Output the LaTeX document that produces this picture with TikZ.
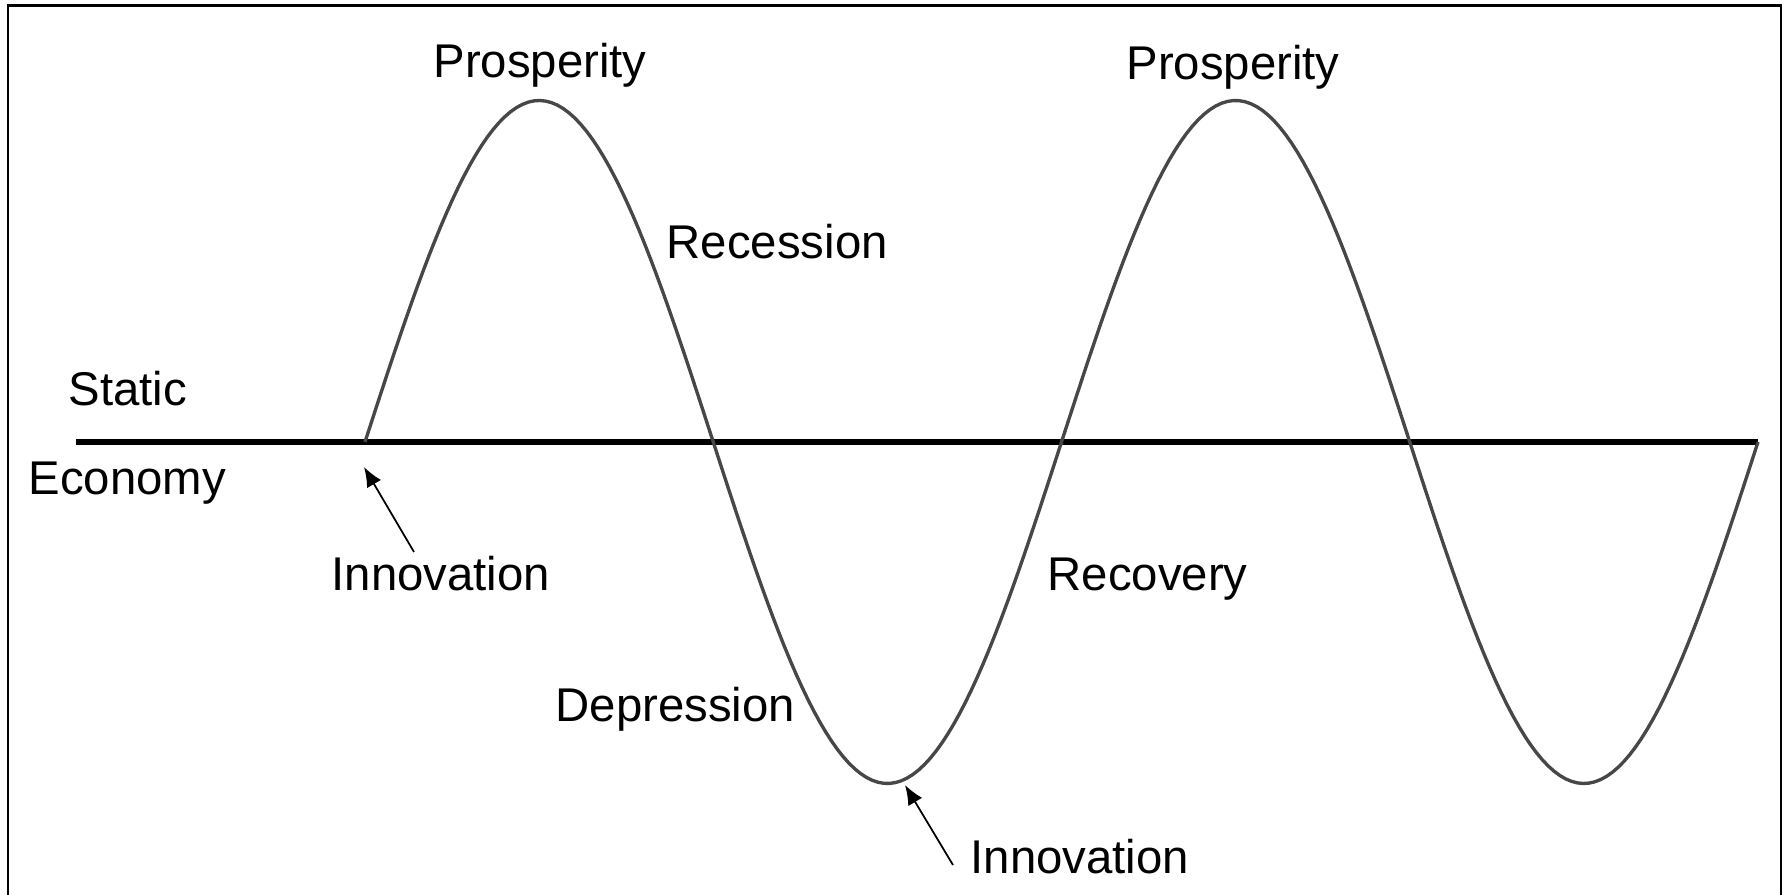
\documentclass[tikz,border=0pt]{standalone}
\usepackage{fontspec}
\setmainfont{Liberation Sans}
\usepackage{tikz}
\usetikzlibrary{arrows.meta, positioning, calc}

\tikzset{
  lbl/.style={font=\fontsize{13.46}{16}\selectfont, inner sep=0pt},
  wave/.style={draw=black!72, line width=0.95pt},
  pointer/.style={-{Latex[length=5.6pt, width=4.6pt]}, line width=0.5pt}
}

\begin{document}
\begin{tikzpicture}[x=0.01cm, y=-0.01cm]
\useasboundingbox (0,0) rectangle (1784,895);

% Frame (open at the bottom)
\draw[line width=0.7pt] (8,895) |- (1781,5.5) -- (1781,895);

% Static economy line
\coordinate (axisL) at (76,442);
\coordinate (axisR) at (1758,442);
\draw[line width=1.45pt] (axisL) -- (axisR);

% Business cycle wave
\draw[wave] plot[domain=0:720, samples=240] ({365+\x/360*696.5}, {442-341.5*sin(\x)});

% Labels
\node[lbl, anchor=base] (prosp1) at (540,78) {Prosperity};
\node[lbl, anchor=base] (prosp2) at (1233,80) {Prosperity};
\node[lbl, anchor=base west] (recess) at (666,259) {Recession};
\node[lbl, anchor=base west] (static) at (68,406) {Static};
\node[lbl, anchor=base west] (economy) at (28,495) {Economy};
\node[lbl, anchor=base west] (innov1) at (331,591) {Innovation};
\node[lbl, anchor=base west] (recov) at (1047,591) {Recovery};
\node[lbl, anchor=base west] (depress) at (555,722) {Depression};
\node[lbl, anchor=base west] (innov2) at (970,874) {Innovation};

% Innovation pointers
\coordinate (start) at (364,467);
\coordinate (tail1) at (414,552);
\coordinate (trough) at (905,785);
\coordinate (tail2) at (953,865);
\draw[pointer] (tail1) -- (start);
\draw[pointer] (tail2) -- (trough);
\end{tikzpicture}
\end{document}
